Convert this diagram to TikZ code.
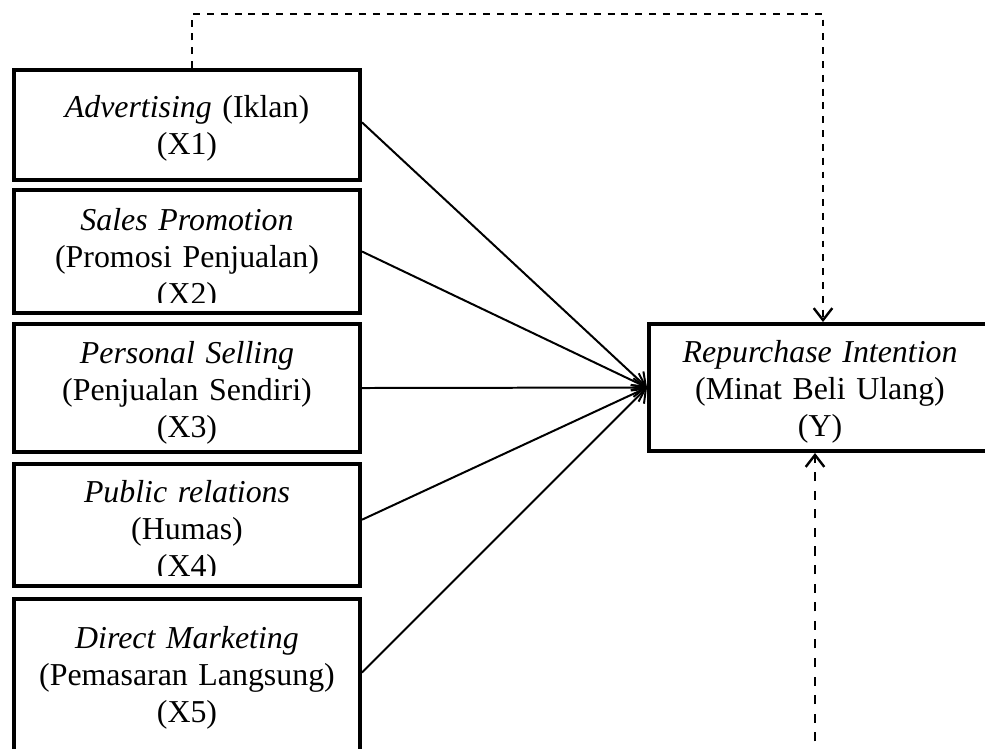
\documentclass[tikz,border=0pt]{standalone}
\usepackage{fontspec}
\setmainfont{Liberation Serif}
\usetikzlibrary{arrows.meta,fit}
\tikzset{
  varbox/.style={draw, line width=1.5pt, inner sep=0pt},
  lbl/.style={font=\fontsize{12}{14}\selectfont, text width=130pt, align=center, anchor=base, inner sep=0pt},
  path/.style={line width=0.75pt, -{Straight Barb[length=4.5pt,width=7pt]}},
  link/.style={line width=0.9pt, dash pattern=on 2.6pt off 2.6pt, -{Straight Barb[length=4.5pt,width=7pt]}}
}
\begin{document}
\begin{tikzpicture}[x=0.3765pt, y=-0.3765pt]
\clip (0,0) rectangle (985,748);
\node[varbox, fit={(14,70)(360,180)}] (x1) {};
\node[varbox, fit={(14,190)(360,313)}] (x2) {};
\node[varbox, fit={(14,324)(360,452)}] (x3) {};
\node[varbox, fit={(14,464)(360,586)}] (x4) {};
\node[varbox, fit={(14,599)(360,770)}] (x5) {};
\node[varbox, fit={(649,324)(995,451)}] (y) {};
\node[lbl] (t1) at (187,117) {\textit{Advertising} (Iklan)\\(X1)};
\begin{scope}
\clip (16,192) rectangle (358,302);
\node[lbl] (t2) at (187,230) {\textit{Sales Promotion}\\(Promosi Penjualan)\\(X2)};
\end{scope}
\node[lbl] (t3) at (187,363) {\textit{Personal Selling}\\(Penjualan Sendiri)\\(X3)};
\begin{scope}
\clip (16,466) rectangle (358,575);
\node[lbl] (t4) at (187,502) {\textit{Public relations}\\(Humas)\\(X4)};
\end{scope}
\node[lbl] (t5) at (187,648) {\textit{Direct Marketing}\\(Pemasaran Langsung)\\(X5)};
\node[lbl] (ty) at (820,362) {\textit{Repurchase Intention}\\(Minat Beli Ulang)\\(Y)};
% direct effects
\draw[path] ([yshift=1pt]x1.east) -- (y.west);
\draw[path] (x2.east) -- (y.west);
\draw[path] (x3.east) -- (y.west);
\draw[path] ([yshift=2pt]x4.east) -- (y.west);
\draw[path] ([yshift=4.5pt]x5.east) -- (y.west);
% dashed links
\coordinate (topl) at (192,14);
\coordinate (topr) at (823,14);
\coordinate (bot) at (815,760);
\draw[link] (x1.north -| topl) -- (topl) -- (topr) -- (topr |- y.north);
\draw[link, dash pattern=on 3.4pt off 3.6pt] (bot) -- (bot |- y.south);
\end{tikzpicture}
\end{document}
